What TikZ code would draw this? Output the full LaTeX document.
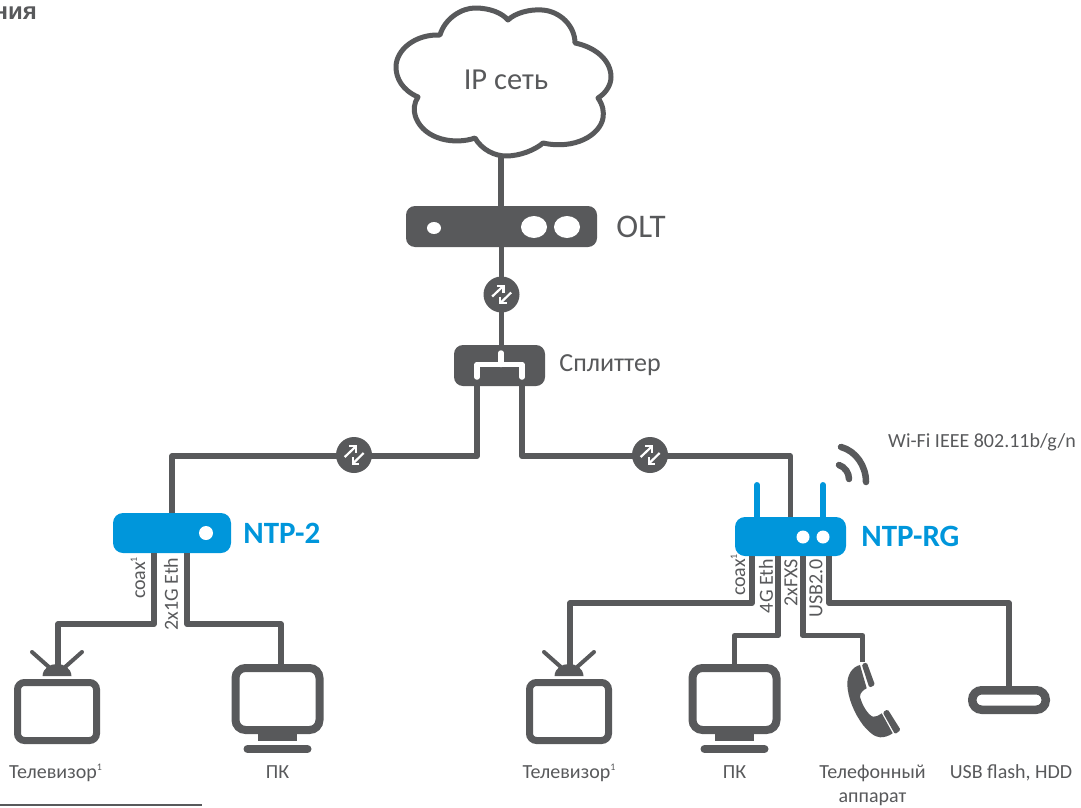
\documentclass[tikz,border=0pt]{standalone}
\usepackage{fontspec}
\setmainfont{Carlito}
\newfontfamily\headfont{Liberation Sans}
\usepackage{tikz}
\usetikzlibrary{positioning,shapes.geometric}
\definecolor{netgray}{HTML}{58595B}
\definecolor{ntpblue}{HTML}{0096DB}
\newcommand{\fnote}{\raisebox{8pt}{\fontsize{10}{10}\selectfont 1}}
\tikzset{
	wire/.style={draw=netgray,line width=5.5pt,line join=round},
	darkbox/.style={fill=netgray,rounded corners=9pt,inner sep=0pt},
	bluebox/.style={fill=ntpblue,rounded corners=10pt,inner sep=0pt},
	holedot/.style={fill=white,ellipse,inner sep=0pt},
	linkdot/.style={fill=netgray,circle,inner sep=0pt,minimum size=36pt},
	tvbox/.style={draw=netgray,line width=7pt,rounded corners=7pt,minimum width=79pt,minimum height=58pt,inner sep=0pt},
	pcbox/.style={draw=netgray,line width=8pt,rounded corners=10pt,minimum width=84pt,minimum height=62pt,inner sep=0pt},
	namelbl/.style={text=netgray,inner sep=0pt,font=\fontsize{20}{22}\selectfont,text height=13pt,text depth=5pt,align=center},
	portlbl/.style={text=netgray,inner sep=0pt,font=\fontsize{20}{22}\selectfont,rotate=90},
	devlbl/.style={text=ntpblue,inner sep=0pt,font=\fontsize{31}{33}\selectfont\bfseries}
}
\begin{document}
\begin{tikzpicture}[x=1pt,y=-1pt]
	\useasboundingbox (0,0) rectangle (1081,808);

	\node [anchor=base east,text=netgray,inner sep=0pt,font=\headfont\fontsize{24}{26}\selectfont\bfseries] (head) at (37,20) {ния};

	% cloud
	\draw [netgray,line width=5pt,line join=round] (418,97)
		.. controls (402,90) and (396,78) .. (396,67)
		.. controls (396,50) and (415,34) .. (440,35)
		.. controls (445,18) and (462,8) .. (475,8)
		.. controls (490,8) and (502,13) .. (508,20)
		.. controls (515,13) and (530,9) .. (542,10)
		.. controls (560,11) and (575,26) .. (575,43)
		.. controls (595,47) and (611,60) .. (611,77)
		.. controls (611,85) and (606,93) .. (598,98)
		.. controls (603,105) and (604,112) .. (603,118)
		.. controls (600,135) and (575,150) .. (543,143)
		.. controls (535,150) and (520,156) .. (506,156)
		.. controls (495,156) and (482,150) .. (475,138)
		.. controls (455,145) and (425,140) .. (416,118)
		.. controls (413,110) and (414,103) .. (418,97) -- cycle;
	\coordinate (cloudb) at (501,156);
	\node [text=netgray,inner sep=0pt,font=\fontsize{30.5}{32}\selectfont] (ipnet) at (506,80) {IP сеть};

	% devices
	\node [darkbox,minimum width=191pt,minimum height=41pt] (olt) at (501.5,226.5) {};
	\node [text=netgray,inner sep=0pt,font=\fontsize{33}{35}\selectfont,right=19pt of olt] (oltname) {OLT};
	\node [holedot,minimum width=14pt,minimum height=12pt] (olta) at (434,228) {};
	\node [holedot,minimum width=26pt,minimum height=22pt] (oltb) at (534,227) {};
	\node [holedot,minimum width=26pt,minimum height=22pt] (oltc) at (567,227) {};

	\node [darkbox,minimum width=91pt,minimum height=41pt] (split) at (499.5,365.5) {};
	\node [text=netgray,inner sep=0pt,font=\fontsize{26}{28}\selectfont,right=14pt of split] (splitname) {Сплиттер};
	\draw [white,line width=5.5pt,line cap=round,line join=round] (477,377) -- (477,364.5) -- (522,364.5) -- (522,377);
	\draw [white,line width=5.5pt,line cap=round] (501,353) -- (501,364.5);

	\node [bluebox,minimum width=118pt,minimum height=40pt] (ntpa) at (172,533) {};
	\node [devlbl,right=12pt of ntpa] (ntpaname) {NTP-2};
	\node [holedot,minimum width=14pt,minimum height=14pt] (ntpadot) at (206,533) {};

	\node [bluebox,minimum width=111pt,minimum height=39pt] (ntpb) at (790.5,536.5) {};
	\node [devlbl,right=15pt of ntpb] (ntpbname) {NTP-RG};
	\node [holedot,minimum width=13pt,minimum height=13pt] (ntpbdota) at (803,537) {};
	\node [holedot,minimum width=13pt,minimum height=13pt] (ntpbdotb) at (823,537) {};
	\draw [ntpblue,line width=5.5pt,line cap=round] ([xshift=-33.5pt]ntpb.north) -- ++(0,-32);
	\draw [ntpblue,line width=5.5pt,line cap=round] ([xshift=32.5pt]ntpb.north) -- ++(0,-32);

	% wifi
	\draw [netgray,line width=6.5pt,line cap=round] (841,447) .. controls (856,451) and (866,466) .. (866,482);
	\draw [netgray,line width=6.5pt,line cap=round] (839,465) .. controls (845,467) and (849,473) .. (849,479);
	\node [namelbl,anchor=base west,text height=,text depth=] (wifi) at (888,447) {Wi-Fi IEEE 802.11b/g/n};

	% televisions
	\foreach \nm/\x in {tva/57,tvb/569}{
		\node [tvbox] (\nm) at (\x,711.5) {};
		\coordinate (\nm dome) at (\x+1,665);
		\draw [netgray,line width=4pt,line cap=round] (\x-7,668) -- (\x-25,652);
		\draw [netgray,line width=4pt,line cap=round] (\x+7,668) -- (\x+25,652);
		\fill [netgray] (\x-14.5,676) .. controls (\x-14,668) and (\x-7,664) .. (\x,664)
			.. controls (\x+7,664) and (\x+14,668) .. (\x+14.5,676) -- cycle;
	}

	% monitors
	\foreach \nm/\x in {pca/277.5,pcb/734.5}{
		\node [pcbox] (\nm) at (\x,699) {};
		\fill [netgray] (\x-19.5,734) rectangle (\x+19.5,741);
		\draw [netgray,line width=8pt,line cap=round] (\x-30,749) -- (\x+30,749);
	}

	% handset
	\coordinate (phonet) at (862.5,662);
	\fill [netgray,line join=round] (860,665) .. controls (852,667) and (847,675) .. (847.3,685)
		.. controls (848,698) and (854,713) .. (863,725)
		.. controls (868,731) and (874,737) .. (880,737.3)
		.. controls (884,737.5) and (889,736) .. (892.7,733.3)
		-- (881.7,713.3) .. controls (878,716) and (875,717) .. (873,716.7)
		.. controls (868,715) and (862,705) .. (860,696.7)
		.. controls (860,693) and (863,690) .. (866.7,688.3) -- cycle;
	\fill [netgray,rounded corners=1.5pt] (861.7,664.3) -- (866.7,662.3) -- (875,685) -- (869.3,687.7) -- cycle;
	\fill [netgray,rounded corners=1.5pt] (882.7,712.3) -- (887.7,709.3) -- (900.7,730) -- (895,734.3) -- cycle;
	\coordinate (phoneb) at (872.5,737);

	% usb stick
	\node [draw=netgray,line width=8.5pt,rounded corners=9.5pt,minimum width=73.5pt,minimum height=19.5pt,inner sep=0pt] (usb) at (1009,700) {};

	% connectors
	\draw [wire] (cloudb) -- (cloudb |- olt.north);
	\draw [wire] (olt.south) -- (olt.south |- split.north);
	\draw [wire] ([xshift=-22.5pt]split.south) -- ++(0,70) -| (ntpa.north);
	\draw [wire] ([xshift=22.5pt]split.south) -- ++(0,70) -| (ntpb.north);
	\draw [wire] ([xshift=-18pt]ntpa.south) -- ++(0,71) -| (tvadome);
	\draw [wire] ([xshift=15pt]ntpa.south) -- ++(0,71) -| ([xshift=3.5pt]pca.north);
	\draw [wire] ([xshift=-38.5pt]ntpb.south) -- ++(0,47) -| (tvbdome);
	\draw [wire] ([xshift=-12.5pt]ntpb.south) -- ++(0,79.5) -| (pcb.north);
	\draw [wire] ([xshift=12.5pt]ntpb.south) -- ++(0,79.5) -| (phonet);
	\draw [wire] ([xshift=38.5pt]ntpb.south) -- ++(0,47) -| (usb.north);

	% link marks
	\node [linkdot] (linka) at (501.5,294.5) {};
	\node [linkdot] (linkb) at (354,455) {};
	\node [linkdot] (linkc) at (650,455) {};
	\foreach \nm in {linka,linkb,linkc}{
		\begin{scope}[shift={(\nm)},white,line width=2.2pt]
			\draw (-9.3,2) -- (2,-8.7);
			\draw (-4.7,-8.7) -- (2,-8.7) -- (2,-2);
			\draw (9.7,-2) -- (-1.3,8.7);
			\draw (-1.3,2) -- (-1.3,8.7) -- (5.3,8.7);
		\end{scope}
	}

	% port texts
	\node [portlbl] (coaxa) at (138,578) {coax\fnote};
	\node [portlbl] (etha) at (171,594) {2x1G Eth};
	\node [portlbl] (coaxb) at (738,575) {coax\fnote};
	\node [portlbl] (ethb) at (766,586) {4G Eth};
	\node [portlbl] (fxsb) at (791,583) {2xFXS};
	\node [portlbl] (usbb) at (816,588) {USB2.0};

	% device names
	\node [namelbl,below=21pt of tva,xshift=-1.5pt] (tvaname) {Телевизор\fnote};
	\node [namelbl,below=31pt of pca] (pcaname) {ПК};
	\node [namelbl,below=21pt of tvb] (tvbname) {Телевизор\fnote};
	\node [namelbl,below=31pt of pcb] (pcbname) {ПК};
	\node [namelbl,below=28pt of phoneb] (phonename) {Телефонный};
	\node [namelbl,below=6pt of phonename] (phonenameb) {аппарат};
	\node [namelbl,below=51pt of usb,xshift=2pt] (usbname) {USB flash, HDD};

	\draw [netgray,line width=2.7pt] (0,805) -- (202,805);
\end{tikzpicture}
\end{document}
